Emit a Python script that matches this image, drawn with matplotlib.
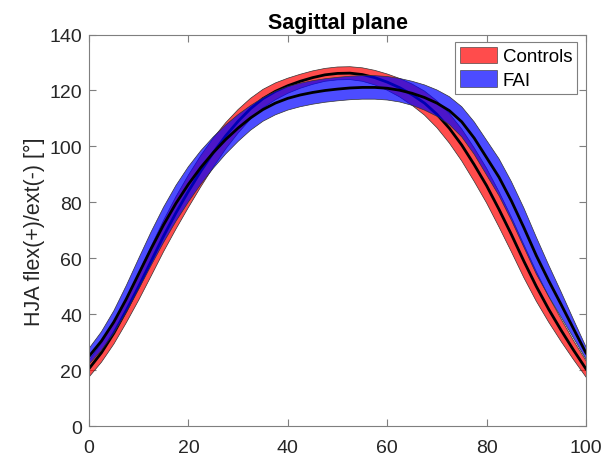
import numpy as np
import matplotlib
matplotlib.use("Agg")
import matplotlib.pyplot as plt
from matplotlib.patches import Patch

# Gait cycle (%) sampled every 2.5 %
cycle = np.arange(0, 100.01, 2.5)

# Hip joint angle, Controls: mean and SD (deg)
controls_mean = [20.6, 26.3, 33.3, 41.4, 50.0, 59.0, 68.0, 76.3, 84.0, 91.2,
                 97.8, 103.8, 109.0, 113.5, 117.1, 119.7, 121.7, 123.3, 124.6, 125.6,
                 126.1, 126.2, 125.7, 124.6, 123.0, 121.0, 118.5, 115.5, 111.5, 106.5,
                 100.5, 93.5, 86.0, 77.5, 68.5, 59.0, 50.0, 41.8, 34.3, 27.2, 20.5]
controls_sd = [3.0, 3.4, 3.9, 4.4, 4.9, 5.3, 5.6, 5.8, 5.8, 5.6,
               5.2, 4.7, 4.2, 3.7, 3.3, 3.0, 2.7, 2.5, 2.4, 2.3,
               2.3, 2.3, 2.4, 2.6, 2.9, 3.3, 3.8, 4.3, 4.8, 5.3,
               5.7, 6.0, 6.2, 6.3, 6.2, 5.9, 5.3, 4.6, 4.0, 3.4, 2.9]

# Hip joint angle, FAI: mean and SD (deg)
fai_mean = [25.0, 30.5, 37.3, 45.5, 54.5, 63.5, 72.0, 79.7, 86.5, 92.5,
            97.8, 102.5, 106.6, 110.2, 113.2, 115.5, 117.2, 118.4, 119.3, 120.0,
            120.5, 120.9, 121.1, 121.1, 120.8, 120.1, 119.0, 117.5, 115.5, 112.8,
            108.8, 103.0, 96.0, 89.0, 80.5, 71.0, 61.0, 52.0, 43.5, 34.8, 26.2]
fai_sd = [2.8, 3.3, 4.0, 4.8, 5.5, 6.0, 6.3, 6.4, 6.3, 6.0,
          5.6, 5.2, 4.8, 4.4, 4.2, 4.2, 4.2, 4.2, 4.2, 4.2,
          4.2, 4.2, 4.2, 4.2, 4.2, 4.2, 4.3, 4.5, 4.7, 5.0,
          5.4, 5.8, 6.2, 6.6, 6.9, 7.0, 6.6, 5.6, 4.5, 3.3, 2.2]

groups = ["Controls", "FAI"]
colors = ["#ff0000", "#0000ff"]

plt.rcParams["font.family"] = ["Liberation Sans", "DejaVu Sans"]

fig = plt.figure(figsize=(6.06, 4.56), dpi=100)
ax = fig.add_axes([0.1469, 0.0629, 0.8201, 0.8592])

series = [(controls_mean, controls_sd), (fai_mean, fai_sd)]
for (m, s), c in zip(series, colors):
    m = np.asarray(m)
    s = np.asarray(s)
    ax.fill_between(cycle, m - s, m + s, facecolor=c, alpha=0.7,
                    edgecolor="none", zorder=2)
    ax.plot(cycle, m + s, color="#333333", lw=0.5, zorder=2)
    ax.plot(cycle, m - s, color="#333333", lw=0.5, zorder=2)
    ax.plot(cycle, m, color="black", lw=2.0, zorder=2)

ax.set_xlim(0, 100)
ax.set_ylim(0, 140)
ax.set_xticks(np.arange(0, 101, 20))
ax.set_yticks(np.arange(0, 141, 20))

for sp in ax.spines.values():
    sp.set_color("#7f7f7f")
    sp.set_linewidth(0.8)
ax.tick_params(direction="in", length=5, width=0.8, color="#7f7f7f",
               top=True, right=True, labelsize=14, labelcolor="#262626")
ax.tick_params(axis="x", pad=9)
ax.tick_params(axis="y", pad=5)

ax.set_title("Sagittal plane", fontsize=15.5, fontweight="bold", pad=5)
ax.set_ylabel("HJA flex(+)/ext(-) [°]", fontsize=15.5, color="#262626", labelpad=3)

handles = [Patch(facecolor=c, alpha=0.7, edgecolor="#333333", linewidth=0.6)
           for c in colors]
leg = ax.legend(handles, groups, loc="upper right",
                bbox_to_anchor=(0.982, 0.981), borderaxespad=0,
                fontsize=13.5, frameon=True, fancybox=False,
                handlelength=2.0, handleheight=0.95, handletextpad=0.3,
                borderpad=0.25, labelspacing=0.28)
leg.get_frame().set_edgecolor("#7f7f7f")
leg.get_frame().set_linewidth(0.8)
leg.get_frame().set_alpha(1.0)

fig.savefig("out.png", dpi=100)
